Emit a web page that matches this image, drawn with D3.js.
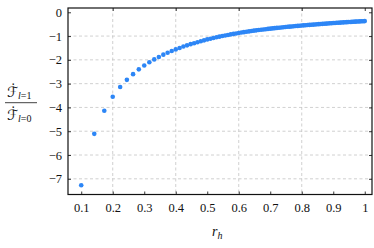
<!DOCTYPE html>
<html>
<head>
<meta charset="utf-8">
<script src="https://cdn.jsdelivr.net/npm/d3@7"></script>
<style>
  body { margin: 0; background: #fff; }
  text { fill: #111; }
</style>
</head>
<body>
<div id="chart"></div>
<script>
// r_h values of the dots
var rh = [0.1, 0.1414, 0.1732, 0.2, 0.2236, 0.2449, 0.2646, 0.2828, 0.3, 0.3162,
          0.3317, 0.3464, 0.3606, 0.3742, 0.3873, 0.4, 0.4123, 0.4243, 0.4359, 0.4472,
          0.4583, 0.469, 0.4796, 0.4899, 0.5, 0.5099, 0.5196, 0.5292, 0.5385, 0.5477,
          0.5568, 0.5657, 0.5745, 0.5831, 0.5916, 0.6, 0.6083, 0.6164, 0.6245, 0.6325,
          0.6403, 0.6481, 0.6557, 0.6633, 0.6708, 0.6782, 0.6856, 0.6928, 0.7, 0.7071,
          0.7141, 0.7211, 0.728, 0.7348, 0.7416, 0.7483, 0.755, 0.7616, 0.7681, 0.7746,
          0.781, 0.7874, 0.7937, 0.8, 0.8062, 0.8124, 0.8185, 0.8246, 0.8307, 0.8367,
          0.8426, 0.8485, 0.8544, 0.8602, 0.866, 0.8718, 0.8775, 0.8832, 0.8888, 0.8944,
          0.9, 0.9055, 0.911, 0.9165, 0.922, 0.9274, 0.9327, 0.9381, 0.9434, 0.9487,
          0.9539, 0.9592, 0.9644, 0.9695, 0.9747, 0.9798, 0.9849, 0.99, 0.995, 1.0];

// flux ratio F(l=1)/F(l=0)
var ratio = [-7.27, -5.11, -4.14, -3.55, -3.14, -2.84, -2.60, -2.40, -2.24, -2.10,
             -1.98, -1.88, -1.78, -1.70, -1.63, -1.56, -1.50, -1.44, -1.39, -1.34,
             -1.30, -1.26, -1.22, -1.18, -1.14, -1.11, -1.08, -1.05, -1.025, -1.0,
             -0.975, -0.952, -0.93, -0.909, -0.889, -0.87, -0.852, -0.835, -0.819, -0.803,
             -0.788, -0.773, -0.759, -0.747, -0.734, -0.722, -0.711, -0.699, -0.689, -0.678,
             -0.667, -0.657, -0.648, -0.638, -0.629, -0.62, -0.611, -0.603, -0.595, -0.587,
             -0.579, -0.572, -0.565, -0.557, -0.55, -0.544, -0.537, -0.53, -0.524, -0.517,
             -0.511, -0.505, -0.499, -0.493, -0.487, -0.481, -0.475, -0.47, -0.464, -0.459,
             -0.453, -0.448, -0.443, -0.438, -0.434, -0.429, -0.424, -0.419, -0.415, -0.411,
             -0.406, -0.402, -0.398, -0.394, -0.39, -0.385, -0.381, -0.378, -0.374, -0.37];

var xTicks = [0.1, 0.2, 0.3, 0.4, 0.5, 0.6, 0.7, 0.8, 0.9, 1];
var xGrid = [0.2, 0.4, 0.6, 0.8];
var yTicks = [0, -1, -2, -3, -4, -5, -6, -7];
var yGrid = [-1, -2, -3, -4, -5, -6, -7];

var margin = {top: 8, right: 2, bottom: 53.5, left: 68},
    width = 374 - margin.left - margin.right,
    height = 248 - margin.top - margin.bottom;

var x = d3.scaleLinear().domain([0.058, 1.023]).range([0, width]);
var y = d3.scaleLinear().domain([-7.66, 0.18]).range([height, 0]);

var serif = "'Liberation Serif', 'DejaVu Serif', serif";

var svg = d3.select("#chart").append("svg")
    .attr("width", 374)
    .attr("height", 248)
    .style("font-family", serif);
var g = svg.append("g")
    .attr("transform", "translate(" + margin.left + "," + margin.top + ")");

// grid
g.selectAll(".vgrid").data(xGrid).enter().append("line")
    .attr("x1", function(d) { return x(d); }).attr("x2", function(d) { return x(d); })
    .attr("y1", 0).attr("y2", height)
    .attr("stroke", "#c4c4c4").attr("stroke-width", 0.8).attr("stroke-dasharray", "3,2.5");
g.selectAll(".hgrid").data(yGrid).enter().append("line")
    .attr("x1", 0).attr("x2", width)
    .attr("y1", function(d) { return y(d); }).attr("y2", function(d) { return y(d); })
    .attr("stroke", "#c4c4c4").attr("stroke-width", 0.8).attr("stroke-dasharray", "3,2.5");

// dots
g.selectAll(".dot").data(rh).enter().append("circle")
    .attr("cx", function(d) { return x(d); })
    .attr("cy", function(d, i) { return y(ratio[i]); })
    .attr("r", 2.3)
    .attr("fill", "#2d86f6");

// axes, ticks pointing inward
var fmt = function(d) { return d3.format("")(d); };
var xAxis = g.append("g").attr("transform", "translate(0," + height + ")")
    .call(d3.axisBottom(x).tickValues(xTicks).tickSize(-3).tickPadding(9).tickFormat(fmt));
var xTop = g.append("g")
    .call(d3.axisTop(x).tickValues(xGrid.concat([1])).tickSize(-3).tickFormat(""));
var yAxis = g.append("g")
    .call(d3.axisLeft(y).tickValues(yTicks).tickSize(-3).tickPadding(6).tickFormat(fmt));
var yRight = g.append("g").attr("transform", "translate(" + width + ",0)")
    .call(d3.axisRight(y).tickValues(yTicks).tickSize(-3).tickFormat(""));

[xAxis, xTop, yAxis, yRight].forEach(function(a) {
  a.attr("font-family", null).attr("font-size", null);
  a.select(".domain").remove();
  a.selectAll("line").attr("stroke", "#222").attr("stroke-width", 0.9);
  a.selectAll("text").attr("fill", "#111")
    .style("font-family", serif).style("font-size", "12.5px");
});

// frame
g.append("rect").attr("width", width).attr("height", height)
    .attr("fill", "none").attr("stroke", "#111").attr("stroke-width", 1.2);

// x label r_h
var xl = svg.append("text").attr("x", 212).attr("y", 236)
    .style("font-size", "14px");
xl.append("tspan").style("font-style", "italic").text("r");
xl.append("tspan").attr("dy", 3).style("font-size", "10px").style("font-style", "italic").text("h");

// y label: dF(l=1)/dF(l=0), dot as a combining mark on the F
function frac(yb, sub) {
  var t = svg.append("text").attr("x", 7).attr("y", yb).style("font-size", "14px");
  t.append("tspan").style("font-family", "'DejaVu Sans', sans-serif").text("ℱ\u0307");
  var s = t.append("tspan").attr("dy", 2.5).style("font-size", "10px");
  s.append("tspan").style("font-style", "italic").text("l");
  s.append("tspan").text("=" + sub);
}
frac(96.5, "1");
frac(119.5, "0");
svg.append("line").attr("x1", 5).attr("x2", 37).attr("y1", 102.7).attr("y2", 102.7)
    .attr("stroke", "#111").attr("stroke-width", 0.8);
</script>
</body>
</html>
